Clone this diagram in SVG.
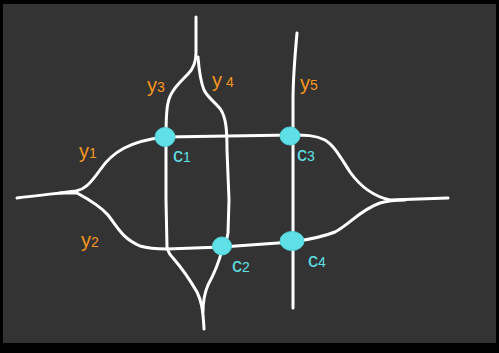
<svg xmlns="http://www.w3.org/2000/svg" width="499" height="353" viewBox="0 0 499 353">
<style>
.wire{fill:none;stroke:#ffffff;stroke-width:3;stroke-linecap:round;stroke-linejoin:round}
.dot{fill:#5fe0e6;stroke:#4fd3da;stroke-width:1}
.ylab{font-family:"Liberation Sans",Arial,sans-serif;font-size:20px;fill:#f7961e}
.clab{font-family:"Liberation Sans",Arial,sans-serif;font-size:20px;fill:#5fe0e6}
.sub{font-size:14px}
</style>
<rect x="0" y="0" width="499" height="353" fill="#000000"/>
<rect x="3" y="4" width="493" height="339" fill="#333333"/>
<g id="connectors">
<path id="y1" class="wire" d="M17,198 C40,195 62,193 76,191 C85,189 90,184 100,170 C112,152 130,141 165,137"/>
<path id="y2" class="wire" d="M60,193 L77,193 C90,200 100,206 108,215 C118,228 122,238 140,246 C150,249 160,249 167,249 L222,247 L292,242 C305,240 320,238 335,232 C350,224 360,210 380,203 C390,200 398,200 405,200"/>
<path id="y1r" class="wire" d="M165,137 L292,135 C305,135 315,135 325,140 C335,146 342,160 350,172 C360,186 372,196 390,200 L448,198"/>
<path id="y3" class="wire" d="M196,17 L196,53 C196,62 194,68 188,74 C178,84 170,92 168,103 C166,112 166,120 166,137 L166,200 L167,247 C168,252 170,255 173,258 C180,266 190,280 197,292 C201,300 203,308 204,329"/>
<path id="y4" class="wire" d="M198,57 C199,70 200,80 204,90 C208,98 216,103 221,110 C226,118 227,130 227,150 L229,200 L228,233 C227,240 224,247 222,250 C219,262 214,274 208,285 C205,292 203,300 203,312"/>
<path id="y5" class="wire" d="M297,33 C295,55 293,80 293,100 L293,308"/>
<text class="ylab" x="79" y="158">y<tspan class="sub">1</tspan></text>
<text class="ylab" x="81" y="247">y<tspan class="sub">2</tspan></text>
<text class="ylab" x="147" y="92">y<tspan class="sub">3</tspan></text>
<text class="ylab" x="212" y="87">y<tspan class="sub"> 4</tspan></text>
<text class="ylab" x="300" y="90">y<tspan class="sub">5</tspan></text>
</g>
<g id="c1">
<ellipse class="dot" cx="165" cy="137" rx="10" ry="9.5"/>
<text class="clab" x="173" y="162">c<tspan class="sub">1</tspan></text>
</g>
<g id="c2">
<ellipse class="dot" cx="222" cy="246" rx="9.5" ry="9"/>
<text class="clab" x="232" y="272">c<tspan class="sub">2</tspan></text>
</g>
<g id="c3">
<ellipse class="dot" cx="290" cy="136" rx="10" ry="9"/>
<text class="clab" x="297" y="161">c<tspan class="sub">3</tspan></text>
</g>
<g id="c4">
<ellipse class="dot" cx="292" cy="241" rx="12" ry="9.5"/>
<text class="clab" x="308" y="267">c<tspan class="sub">4</tspan></text>
</g>
</svg>
